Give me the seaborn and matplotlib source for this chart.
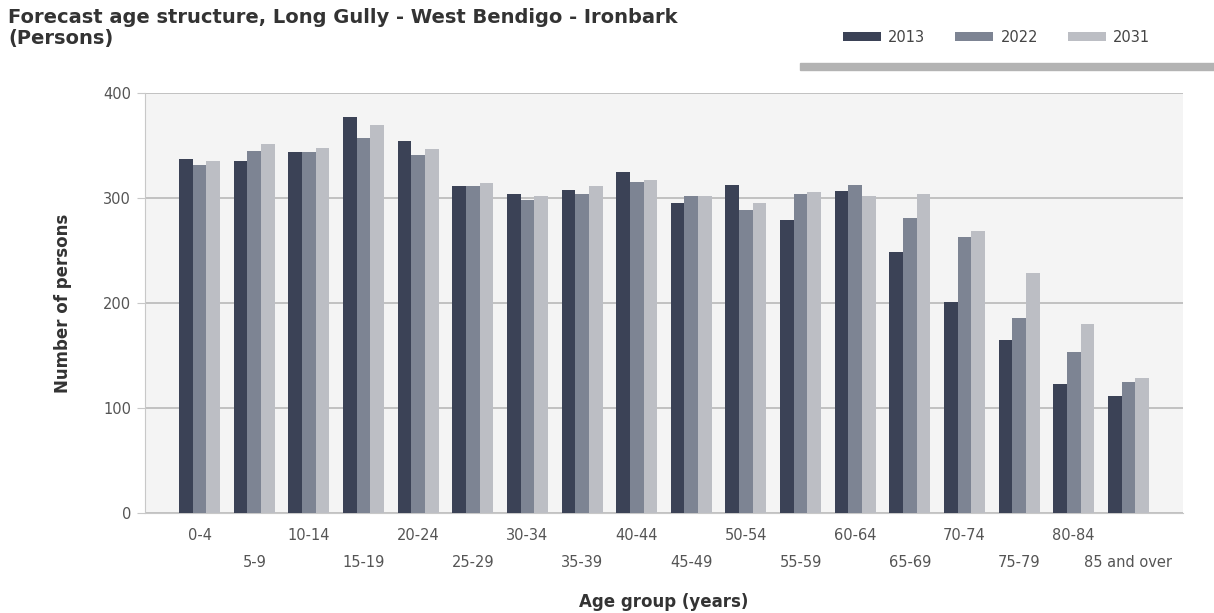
import pandas as pd
import matplotlib.pyplot as plt
import seaborn as sns
from matplotlib.patches import Rectangle

# Forecast age structure data (persons)
age_groups = ['0-4', '5-9', '10-14', '15-19', '20-24', '25-29', '30-34', '35-39',
              '40-44', '45-49', '50-54', '55-59', '60-64', '65-69', '70-74',
              '75-79', '80-84', '85 and over']
years = ['2013', '2022', '2031']
persons_2013 = [337, 335, 344, 377, 354, 311, 304, 308, 325, 295, 312, 279, 307, 249, 201, 165, 123, 111]
persons_2022 = [331, 345, 344, 357, 341, 311, 298, 304, 315, 302, 289, 304, 312, 281, 263, 186, 153, 125]
persons_2031 = [335, 351, 348, 370, 347, 314, 302, 311, 317, 302, 295, 306, 302, 304, 269, 229, 180, 129]

colors = ['#3b4256', '#7d8493', '#bcbec4']

df = pd.DataFrame({
    'Age group': age_groups * 3,
    'Year': [y for y in years for _ in age_groups],
    'Persons': persons_2013 + persons_2022 + persons_2031,
})

sns.set_style('white')
plt.rcParams['font.family'] = ['DejaVu Sans']

fig = plt.figure(figsize=(12.14, 6.13), dpi=100)
ax = fig.add_axes([145 / 1214, 1 - 513 / 613, 1038 / 1214, 420 / 613])
ax.set_facecolor('#f4f4f4')

sns.barplot(data=df, x='Age group', y='Persons', hue='Year', palette=colors,
            width=0.75, saturation=1, linewidth=0, ax=ax, zorder=3)

handles, labels = ax.get_legend_handles_labels()
ax.get_legend().remove()

# axes styling
ax.set_xlim(-1, len(age_groups))
ax.set_ylim(0, 400)
ax.set_yticks([0, 100, 200, 300, 400])
ax.yaxis.grid(True, color='#b8b8b8', linewidth=1.2, zorder=0)
ax.set_axisbelow(True)
for side in ['top', 'right']:
    ax.spines[side].set_visible(False)
ax.spines['left'].set_color('#c8c8c8')
ax.spines['bottom'].set_color('#c8c8c8')

# alternate tick labels on two rows (even -> major, odd -> minor ticks)
even = list(range(0, len(age_groups), 2))
odd = list(range(1, len(age_groups), 2))
ax.set_xticks(even, labels=[age_groups[i] for i in even])
ax.set_xticks(odd, labels=[age_groups[i] for i in odd], minor=True)
ax.tick_params(axis='x', which='major', length=4, color='#c8c8c8', labelsize=10.5,
               labelcolor='#555555', pad=7)
ax.tick_params(axis='x', which='minor', length=4, color='#c8c8c8', labelsize=10.5,
               labelcolor='#555555', pad=26)
ax.tick_params(axis='y', length=6, color='#c8c8c8', labelsize=10.5, labelcolor='#555555', pad=4, left=True)
ax.set_xlabel('Age group (years)', fontsize=12, fontweight='bold', color='#333333')
ax.xaxis.set_label_coords(0.5, -0.19)
ax.set_ylabel('Number of persons', fontsize=12, fontweight='bold', color='#333333', labelpad=22)

# title
fig.text(8 / 1214, 1 - 8 / 613,
         'Forecast age structure, Long Gully - West Bendigo - Ironbark\n(Persons)',
         ha='left', va='top', fontsize=14, fontweight='bold', color='#333333', linespacing=1.15)

# legend box with shadow line
fig.patches.append(Rectangle((800 / 1214, 1 - 70 / 613), 414 / 1214, 7 / 613,
                             transform=fig.transFigure, color='#b3b3b3', zorder=0))
fig.legend(handles, labels, loc='center left', bbox_to_anchor=(830 / 1214, 1 - 37 / 613),
           ncol=3, frameon=False, fontsize=10.5, handlelength=2.6, handleheight=0.6,
           handletextpad=0.5, columnspacing=2.05, labelcolor='#444444')

fig.savefig('out.png', dpi=100, facecolor='white')
